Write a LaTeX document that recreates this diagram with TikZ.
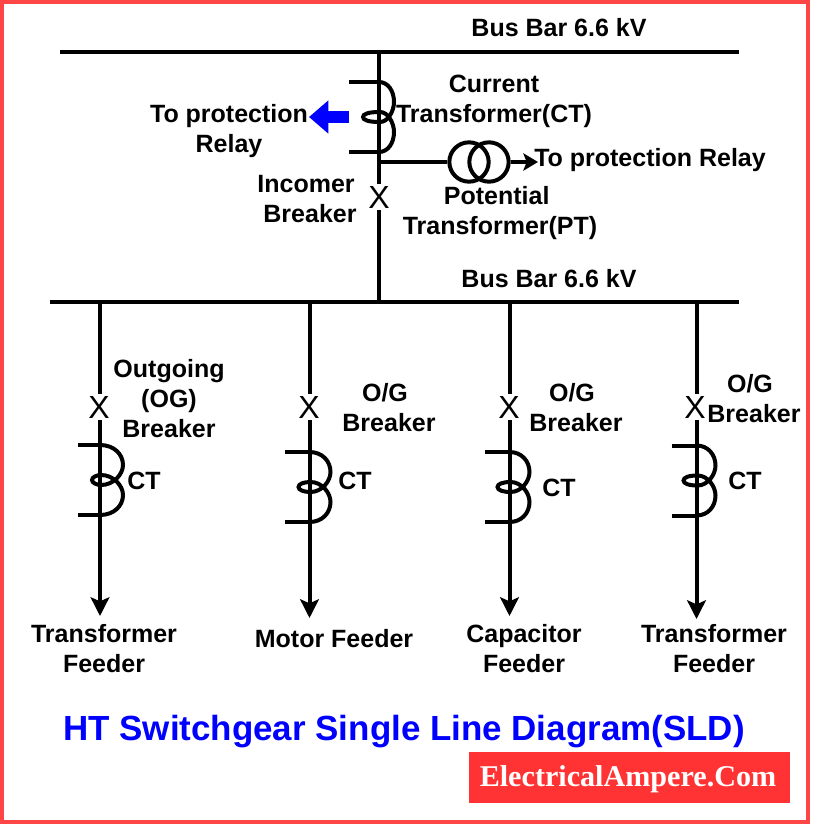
\documentclass[tikz,border=0pt]{standalone}
\usepackage{fontspec}
\setmainfont{Liberation Sans}
\newfontfamily\markfont{Liberation Serif}
\usetikzlibrary{arrows.meta}
\tikzset{
    wire/.style={line width=3pt},
    feed/.style={wire,-{Stealth[length=14pt,width=14pt,inset=3pt]}},
    lbl/.style={font=\fontsize{18.75}{22.5}\selectfont\bfseries,align=center,inner sep=0pt},
    brk/.style={font=\fontsize{24}{24}\selectfont,inner sep=1.5pt},
    pics/coil/.style n args={3}{code={
        \draw[wire] (-#1,-35) -- (0,-35);
        \draw[wire] (-#1,35) -- (0,35);
        \draw[wire] (0,-35) .. controls ({0.6*#2},-35) and (#2,-26) .. (#2,-15)
            .. controls (#2,-6) and ({0.6*#2},5) .. (1,5)
            .. controls ({-#3+5},5) and (-#3,3) .. (-#3,0)
            .. controls (-#3,-3) and ({-#3+5},-5) .. (1,-5)
            .. controls ({0.6*#2},-5) and (#2,6) .. (#2,15)
            .. controls (#2,26) and ({0.6*#2},35) .. (0,35);
    }}
}
\begin{document}
\begin{tikzpicture}[x=0.75pt,y=-0.75pt]
        \useasboundingbox (0,0) rectangle (838,824);
        \definecolor{bordred}{RGB}{255,70,70}
        \definecolor{markred}{RGB}{255,51,51}
        \definecolor{ttlblue}{RGB}{0,0,255}
        \draw[bordred,line width=3pt] (2,2) rectangle (808,822);
        % bus bars
        \coordinate (busaL) at (60,52);
        \coordinate (busaR) at (739,52);
        \coordinate (busbL) at (50,302);
        \coordinate (busbR) at (739,302);
        \draw[wire] (busaL) -- (busaR);
        \draw[wire] (busbL) -- (busbR);
        \node[lbl] (busaT) at (559,28) {Bus Bar 6.6 kV};
        \node[lbl] (busbT) at (549,279) {Bus Bar 6.6 kV};
        % incomer
        \coordinate (inTop) at (379,52);
        \coordinate (inBot) at (379,302);
        \coordinate (ptTee) at (379,162);
        \node[brk] (inX) at (379,197) {X};
        \draw[wire] (inTop) -- (inX);
        \draw[wire] (inX) -- (inBot);
        \pic at (379,117) {coil={30}{15}{16}};
        \node[lbl] (ctT) at (494,101) {Current\\Transformer(CT)};
        \node[lbl] (relT) at (229,131) {To protection\\Relay};
        \node[lbl] (inT) at (306,199) {Incomer\\\hspace*{6pt}Breaker};
        % blue arrow to relay
        \coordinate (bluA) at (349,117);
        \coordinate (bluB) at (309,117);
        \draw[ttlblue,line width=8.5pt,-{Triangle[length=14.5pt,width=24pt]}] (bluA) -- (bluB);
        % potential transformer
        \node[draw,circle,line width=3pt,minimum size=29.5pt,inner sep=0pt] (ptA) at (469,162) {};
        \node[draw,circle,line width=3pt,minimum size=29.5pt,inner sep=0pt] (ptB) at (489,162) {};
        \coordinate (ptEnd) at (538,162);
        \draw[wire] (ptTee) -- (ptA);
        \draw[wire,-{Stealth[length=11pt,width=13pt,inset=2.5pt]}] (ptB) -- (ptEnd);
        \node[lbl] (ptrT) at (650,160) {To protection Relay};
        \node[lbl] (ptT) at (500,213) {\hspace*{-5pt}Potential\\Transformer(PT)};
        % feeder 1
        \coordinate (fdaT) at (100,302);
        \coordinate (fdaE) at (100,616);
        \node[brk] (fdaX) at (99,407) {X};
        \draw[wire] (fdaT) -- (fdaT |- fdaX.north);
        \draw[feed] (fdaT |- fdaX.south) -- (fdaE);
        \pic at (100,480) {coil={22}{23}{8}};
        \node[lbl] (fdaB) at (169,398.5) {Outgoing\\(OG)\\Breaker};
        \node[lbl] (fdaC) at (144,481) {CT};
        \node[lbl] (fdaN) at (104,649) {Transformer\\Feeder};
        % feeder 2
        \coordinate (fdbT) at (309.5,302);
        \coordinate (fdbE) at (309.5,618);
        \node[brk] (fdbX) at (309,407) {X};
        \draw[wire] (fdbT) -- (fdbT |- fdbX.north);
        \draw[feed] (fdbT |- fdbX.south) -- (fdbE);
        \pic at (309.5,487) {coil={25}{21}{11}};
        \node[lbl] (fdbB) at (389,408) {\hspace*{-6pt}O/G\\Breaker};
        \node[lbl] (fdbC) at (355,481) {CT};
        \node[lbl] (fdbN) at (334,639) {Motor Feeder};
        % feeder 3
        \coordinate (fdcT) at (509.5,302);
        \coordinate (fdcE) at (509.5,616);
        \node[brk] (fdcX) at (509,407) {X};
        \draw[wire] (fdcT) -- (fdcT |- fdcX.north);
        \draw[feed] (fdcT |- fdcX.south) -- (fdcE);
        \pic at (509.5,487) {coil={25}{20}{12}};
        \node[lbl] (fdcB) at (576,408) {\hspace*{-6pt}O/G\\Breaker};
        \node[lbl] (fdcC) at (559,488) {CT};
        \node[lbl] (fdcN) at (524,649) {Capacitor\\Feeder};
        % feeder 4
        \coordinate (fddT) at (696.5,302);
        \coordinate (fddE) at (696.5,619);
        \node[brk] (fddX) at (695,407) {X};
        \draw[wire] (fddT) -- (fddT |- fddX.north);
        \draw[feed] (fddT |- fddX.south) -- (fddE);
        \pic at (696.5,480.5) {coil={25}{19}{13}};
        \node[lbl] (fddB) at (754,399) {\hspace*{-6pt}O/G\\Breaker};
        \node[lbl] (fddC) at (745,481) {CT};
        \node[lbl] (fddN) at (714,649) {Transformer\\Feeder};
        % title and mark
        \node[font=\fontsize{26.2}{30}\selectfont\bfseries,text=ttlblue,inner sep=0pt] (title) at (404,732) {HT Switchgear Single Line Diagram(SLD)};
        \node[fill=markred,minimum width=240.75pt,minimum height=38.25pt,inner sep=0pt] (mark) at (629.5,777.5) {};
        \node[font=\markfont\fontsize{22.6}{25}\selectfont\bfseries,text=white,inner sep=0pt] (markT) at (628,779) {ElectricalAmpere.Com};
    \end{tikzpicture}
\end{document}
